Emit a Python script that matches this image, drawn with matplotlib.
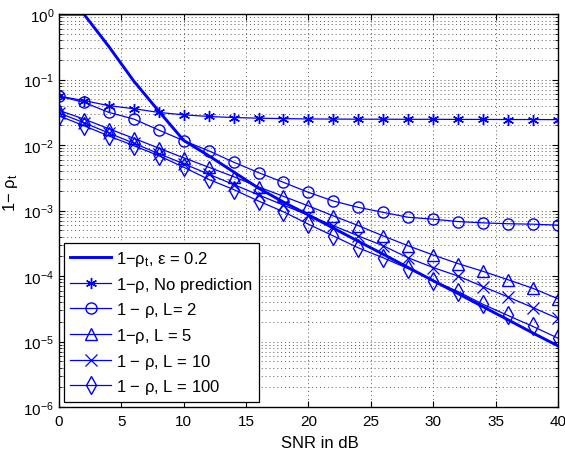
import matplotlib.pyplot as plt
from matplotlib.ticker import LogLocator, NullFormatter

plt.rcParams['font.family'] = ['Liberation Sans', 'DejaVu Sans']
plt.rcParams['mathtext.fontset'] = 'custom'
plt.rcParams['mathtext.rm'] = 'Liberation Sans'
plt.rcParams['mathtext.it'] = 'Liberation Sans'
plt.rcParams['font.size'] = 11

# SNR en dB (marcadores cada 2 dB)
snr = [0, 2, 4, 6, 8, 10, 12, 14, 16, 18, 20, 22, 24, 26, 28, 30, 32, 34, 36, 38, 40]

rho_t_eps = [1.0, 1.0, 0.32, 0.095, 0.033, 0.0118, 0.0069, 0.0039, 0.0022, 0.00135,
             0.00086, 0.00054, 0.00034, 0.000215, 0.000135, 8.5e-5, 5.4e-5, 3.4e-5,
             2.15e-5, 1.35e-5, 8.6e-6]
sin_prediccion = [0.056, 0.048, 0.040, 0.036, 0.0316, 0.029, 0.0274, 0.0264, 0.0258,
                  0.0254, 0.0251, 0.025, 0.0249, 0.0249, 0.0248, 0.0248, 0.0247,
                  0.0247, 0.0246, 0.0246, 0.0245]
L2 = [0.056, 0.045, 0.0316, 0.025, 0.017, 0.0117, 0.0082, 0.0055, 0.0038, 0.0027,
      0.0019, 0.0014, 0.00112, 0.00094, 0.00079, 0.00074, 0.00068, 0.00065,
      0.00063, 0.00062, 0.0006]
L5 = [0.034, 0.025, 0.0178, 0.0127, 0.0090, 0.0064, 0.0046, 0.0033, 0.0023, 0.00165,
      0.00118, 0.00083, 0.00059, 0.00041, 0.00029, 0.00021, 0.000155, 0.000118,
      8.8e-5, 6.5e-5, 4.5e-5]
L10 = [0.031, 0.022, 0.0153, 0.0107, 0.0074, 0.0052, 0.0036, 0.0025, 0.00174, 0.00121,
       0.00085, 0.00059, 0.00041, 0.00029, 0.00019, 0.000135, 0.0001, 6.9e-5,
       4.8e-5, 3.3e-5, 2.25e-5]
L100 = [0.028, 0.0198, 0.0138, 0.0098, 0.0069, 0.0046, 0.0030, 0.0021, 0.0014, 0.00096,
        0.00062, 0.00041, 0.00027, 0.00019, 0.00013, 8.5e-5, 5.8e-5, 3.7e-5,
        2.5e-5, 1.7e-5, 1.13e-5]

azul = (0, 0, 1)

fig = plt.figure(figsize=(5.65, 4.6), dpi=100)
ax = fig.add_axes([0.1044, 0.113, 0.883, 0.854])

ax.semilogy(snr, rho_t_eps, color=azul, lw=2.1, label=r'1$-$ρ$_t$, ε = 0.2')
ax.semilogy(snr, sin_prediccion, color=azul, lw=0.9, marker=(6, 2, 0), ms=8,
            label=r'1$-$ρ, No prediction')
ax.semilogy(snr, L2, color=azul, lw=0.9, marker='o', ms=8, mfc='none',
            label=r'1 $-$ ρ, L= 2')
ax.semilogy(snr, L5, color=azul, lw=0.9, marker='^', ms=8, mfc='none',
            label=r'1$-$ρ, L = 5')
ax.semilogy(snr, L10, color=azul, lw=0.9, marker='x', ms=8, mew=0.9,
            label=r'1 $-$ ρ, L = 10')
ax.semilogy(snr, L100, color=azul, lw=0.9, marker='d', ms=9, mfc='none',
            label=r'1 $-$ ρ, L = 100')

ax.set_xlim(0, 40)
ax.set_ylim(1e-6, 1)
ax.set_xticks([0, 5, 10, 15, 20, 25, 30, 35, 40])
ax.yaxis.set_major_locator(LogLocator(base=10, numticks=10))
ax.yaxis.set_minor_locator(LogLocator(base=10, subs=range(2, 10), numticks=10))
ax.yaxis.set_minor_formatter(NullFormatter())

ax.grid(True, which='major', axis='both', ls=(0, (1, 3)), color='0.35', lw=0.7)
ax.grid(True, which='minor', axis='y', ls=(0, (1, 3)), color='0.35', lw=0.7)
ax.tick_params(which='both', direction='in', top=True, right=True)
ax.tick_params(which='major', length=4, labelsize=11)
ax.tick_params(axis='x', pad=5)
ax.tick_params(which='minor', length=2)
for s in ax.spines.values():
    s.set_linewidth(1.0)

ax.set_xlabel('SNR in dB', fontsize=12)
ax.xaxis.set_label_coords(0.523, -0.072)
ax.set_ylabel(r'1$-$ ρ$_t$', fontsize=12)
ax.yaxis.set_label_coords(-0.078, 0.547)

leg = ax.legend(loc='lower left', fancybox=False, framealpha=1, edgecolor='k',
                borderaxespad=0.3, handlelength=2.5, labelspacing=0.4,
                handletextpad=0.3, borderpad=0.35, fontsize=12)
leg.get_frame().set_linewidth(0.9)

plt.savefig('out.png', dpi=100)
